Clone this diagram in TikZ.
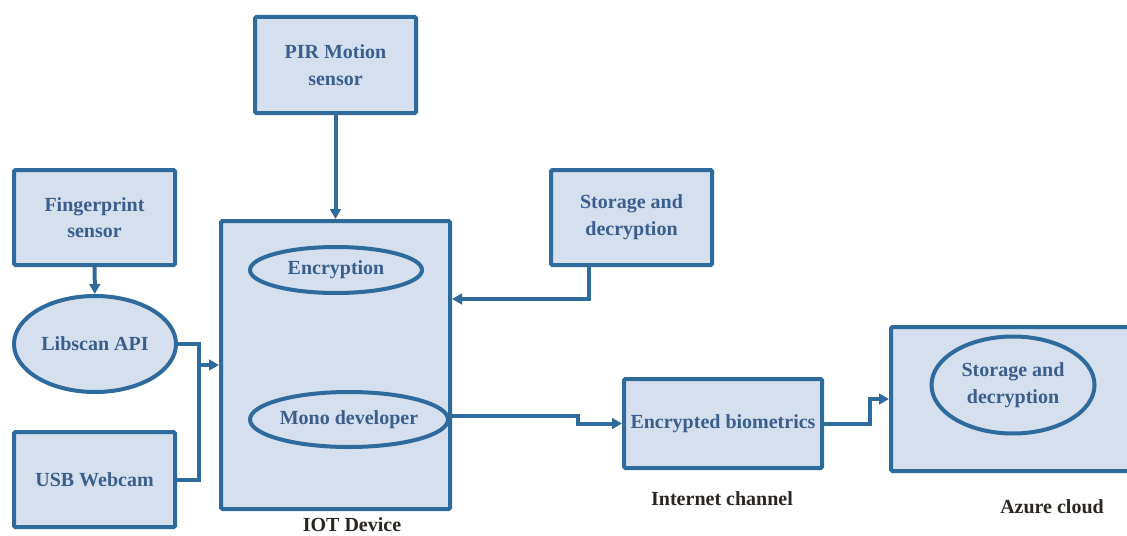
\documentclass[tikz,border=0pt]{standalone}
\usepackage{fontspec}
\setmainfont{Liberation Serif}
\usetikzlibrary{arrows.meta,shapes.geometric,calc}

\definecolor{boxfill}{HTML}{D5DFEE}
\definecolor{boxline}{HTML}{2F6A9C}
\definecolor{boxtext}{HTML}{3A5F8E}
\definecolor{captext}{HTML}{2A2622}

\tikzset{
  blk/.style={draw=boxline, fill=boxfill, line width=3pt, rounded corners=1pt,
    text=boxtext, align=center, inner sep=0pt,
    font=\bfseries\fontsize{15}{20}\selectfont},
  rbox/.style args={#1x#2}{blk, rectangle, minimum width=#1*0.75pt, minimum height=#2*0.75pt},
  ebox/.style args={#1x#2}{blk, ellipse, minimum width=#1*0.75pt, minimum height=#2*0.75pt},
  caption/.style={text=captext, font=\bfseries\fontsize{15}{18}\selectfont},
  wire/.style={draw=boxline, line width=3pt},
  flow/.style={wire, -{Triangle[length=7.5pt,width=8pt]}},
}

\begin{document}
\begin{tikzpicture}[x=0.75pt, y=-0.75pt]
  \useasboundingbox (0,0) rectangle (1127,535);
  \clip (0,0) rectangle (1127,535);

  % sensors and inputs
  \node[rbox=161x96] (pir) at (335.5,65) {PIR Motion\\sensor};
  \node[rbox=161x95] (fp)  at (94.5,217.5) {Fingerprint\\sensor};
  \node[ebox=162x96] (lib) at (95,344) {Libscan API};
  \node[rbox=161x95] (usb) at (94.5,479.5) {USB Webcam};

  % IoT device with its inner blocks
  \node[rbox=229x288] (iot) at (335.5,365) {};
  \node[ebox=172x46] (encr) at (336,270) {Encryption};
  \node[ebox=198x55] (mono) at (349,419.5) {Mono developer};

  \node[rbox=161x95] (store) at (631.5,217.5) {Storage and\\decryption};

  % channel and cloud
  \node[rbox=198x89] (enc) at (723,423.5) {Encrypted biometrics};
  \node[rbox=249x144] (az) at (1015.5,399) {};
  \node[ebox=163x97] (azs) at (1013,385) {Storage and\\decryption};

  % captions
  \node[caption] (capiot) at (352,525) {IOT Device};
  \node[caption] (capnet) at (722,499) {Internet channel};
  \node[caption] (capaz)  at (1052,507) {Azure cloud};

  % routing points
  \coordinate (jn) at (199,365);
  \coordinate (sd) at (589,299);
  \coordinate (m1) at (578,423.5);
  \coordinate (a1) at (870,399);

  % connectors
  \draw[flow] (pir) -- (iot);
  \draw[flow] (fp) -- (lib);
  \draw[wire] (lib.east) -| (jn);
  \draw[wire] (usb.east) -| (jn);
  \draw[flow] (jn) -- (jn -| iot.west);
  \draw[flow] (store.south -| sd) |- (iot.east |- sd);
  \draw[flow] (mono.2) -| (m1) -- (enc.west);
  \draw[flow] (enc.east) -| (a1) -- (az.west);
\end{tikzpicture}
\end{document}
